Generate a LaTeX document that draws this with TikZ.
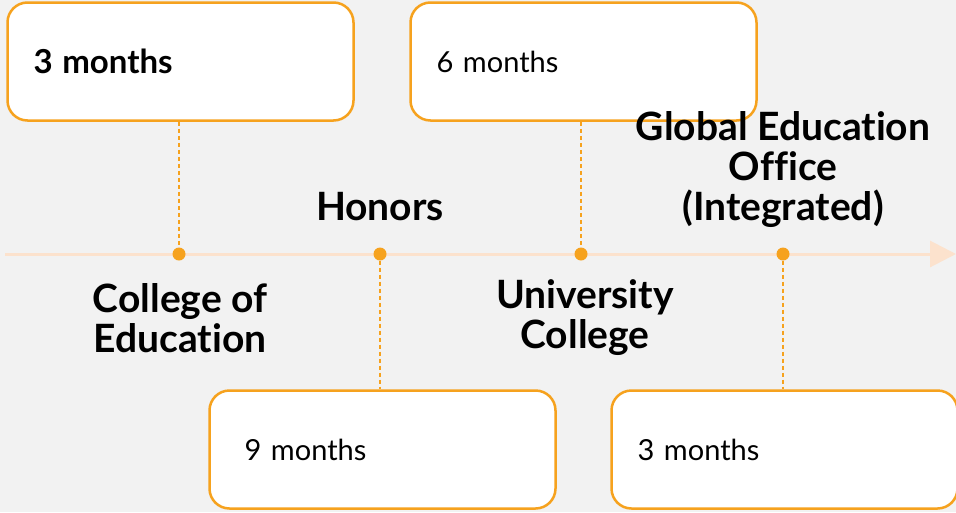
\documentclass[tikz,border=0pt]{standalone}
\usepackage{fontspec}
\setmainfont{Lato}[Ligatures=NoCommon]
\usetikzlibrary{arrows.meta}
\definecolor{accent}{RGB}{246,162,30}
\definecolor{axisline}{RGB}{252,226,205}
\definecolor{bg}{RGB}{242,242,242}
\begin{document}
\begin{tikzpicture}[x=1pt,y=-1pt,
  card/.style={draw=accent, line width=2.5pt, fill=white, rounded corners=20pt,
    minimum height=118pt, text width=294pt, inner xsep=26pt, align=left,
    anchor=north west, font=\fontsize{29}{34}\selectfont},
  milestone/.style={circle, fill=accent, inner sep=0pt, minimum size=13pt},
  tick/.style={draw=accent, line width=1.2pt, dash pattern=on 4pt off 3pt},
  caption/.style={align=center, font=\fontsize{39}{40}\selectfont\bfseries}]
  % canvas
  \fill[bg] (0,0) rectangle (956,512);
  \useasboundingbox (0,0) rectangle (956,512);

  % timeline axis
  \coordinate (axstart) at (5,254);
  \coordinate (axend) at (956,254);
  \draw[axisline, line width=3pt, -{Triangle[length=26pt,width=26pt]}] (axstart) -- (axend);

  % milestones on the axis
  \node[milestone] (d1) at (179,254) {};
  \node[milestone] (d2) at (380,254) {};
  \node[milestone] (d3) at (581,254) {};
  \node[milestone] (d4) at (783,254) {};

  % duration cards
  \node[card] (c1) at (6.25,1.25) {\fontsize{33}{34}\selectfont\bfseries 3 months};
  \node[card] (c2) at (409.25,1.25) {6 months};
  \node[card, inner xsep=35pt, text width=276pt] (c3) at (208.25,389.25) {9 months};
  \node[card] (c4) at (610.25,389.25) {3 months};

  % leader lines from cards to milestones
  \draw[tick] (c1.south -| d1) -- (d1);
  \draw[tick] (c2.south -| d3) -- (d3);
  \draw[tick] (d2) -- (c3.north -| d2);
  \draw[tick] (d4) -- (c4.north -| d4);

  % unit names
  \node[caption] (n1) at (180,318) {College of\\Education};
  \node[caption] (n2) at (380,207) {Honors};
  \node[caption] (n3) at (585,318) {University\\College};
  \node[caption] (n4) at (783,170) {Global Education\\Office\\(Integrated)};
\end{tikzpicture}
\end{document}
